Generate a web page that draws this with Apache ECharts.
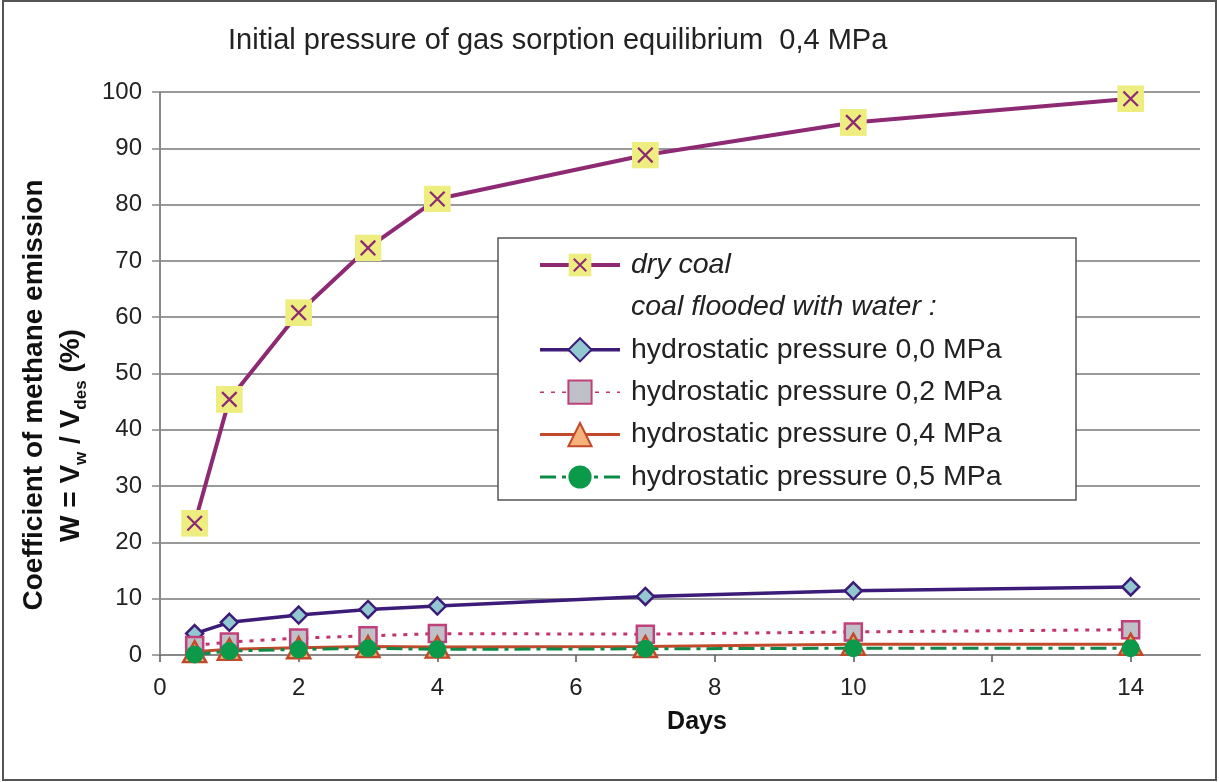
<!DOCTYPE html>
<html>
<head>
<meta charset="utf-8">
<title>Coefficient of methane emission</title>
<script src="https://cdn.jsdelivr.net/npm/echarts@6/dist/echarts.min.js"></script>
<style>
html, body { margin:0; padding:0; background:#fff; }
#e_chart_1 { width:1219px; height:782px; }
</style>
</head>
<body>
<div id="e_chart_1"></div>
<script>
/*****Data start*****/
var days = [0.5, 1, 2, 3, 4, 7, 10, 14];
var dryCoal = [23.4, 45.4, 60.8, 72.3, 81.0, 88.8, 94.6, 98.8];
var hydro00 = [3.8, 5.8, 7.1, 8.1, 8.7, 10.4, 11.4, 12.1];
var hydro02 = [1.7, 2.3, 3.0, 3.4, 3.8, 3.7, 4.1, 4.5];
var hydro04 = [0.6, 1.0, 1.3, 1.5, 1.4, 1.5, 1.9, 1.9];
var hydro05 = [0.1, 0.7, 1.0, 1.2, 1.0, 1.1, 1.2, 1.2];
var xTicks = [0, 2, 4, 6, 8, 10, 12, 14];
var names = ['dry coal', 'coal flooded with water :', 'hydrostatic pressure 0,0 MPa',
	'hydrostatic pressure 0,2 MPa', 'hydrostatic pressure 0,4 MPa', 'hydrostatic pressure 0,5 MPa'];
/*****Data end*****/

function pairs(vals) {
	var out = [];
	for (var i = 0; i < days.length; i++) {
		out.push([days[i], vals[i]]);
	}
	return out;
}

// yellow square with a purple cross, like the excel marker
var crossSvg = "<svg xmlns='http://www.w3.org/2000/svg' width='26' height='26'>" +
	"<rect width='26' height='26' fill='#eeee80'/>" +
	"<path d='M6 6L20 20M20 6L6 20' stroke='#8e2a74' stroke-width='2.2'/></svg>";
var crossSymbol = 'image://data:image/svg+xml;charset=utf-8,' + encodeURIComponent(crossSvg);

var font = "'Liberation Sans', Arial, sans-serif";

window.onload = function() {
	var eChart_1 = echarts.init(document.getElementById('e_chart_1'));
	var option1 = {
		animation: false,
		textStyle: { fontFamily: font },
		title: {
			text: 'Initial pressure of gas sorption equilibrium  0,4 MPa',
			left: 228,
			top: 26,
			padding: 0,
			textStyle: { fontSize: 29, fontWeight: 'normal', color: '#222', fontFamily: font }
		},
		graphic: [{
			type: 'rect',
			shape: { x: 3, y: 1, width: 1213, height: 779 },
			style: { fill: 'none', stroke: '#555', lineWidth: 2 },
			silent: true
		}],
		legend: {
			orient: 'vertical',
			left: 498,
			top: 238,
			padding: [12, 15, 8, 40],
			itemWidth: 80,
			itemHeight: 29,
			itemGap: 12.4,
			backgroundColor: '#fff',
			borderColor: '#555',
			borderWidth: 1.5,
			selectedMode: false,
			lineStyle: { width: 'inherit' },
			textStyle: { fontSize: 28.5, color: '#222', lineHeight: 30, padding: [0, 0, 0, 6], width: 430, fontFamily: font },
			data: [
				{ name: names[0], textStyle: { fontStyle: 'italic' } },
				{ name: names[1], icon: 'none', textStyle: { fontStyle: 'italic' } },
				names[2],
				{ name: names[3], lineStyle: { width: 1.5 } },
				names[4], names[5]
			]
		},
		grid: {
			left: 160,
			right: 19,
			top: 92,
			bottom: 127
		},
		xAxis: {
			type: 'value',
			min: 0,
			max: 15,
			interval: 2,
			name: 'Days',
			nameLocation: 'middle',
			nameGap: 55,
			nameTextStyle: { fontSize: 25, fontWeight: 'bold', color: '#111', padding: [0, 0, 0, 34] },
			axisLine: { show: true, lineStyle: { color: '#888', width: 2 } },
			axisTick: { show: true, length: 7, customValues: xTicks, lineStyle: { color: '#555', width: 1.5 } },
			axisLabel: { customValues: xTicks, fontSize: 24, color: '#222', margin: 21 },
			splitLine: { show: false }
		},
		yAxis: {
			type: 'value',
			min: 0,
			max: 100,
			interval: 10,
			name: '{a|Coefficient of methane emission}\n{b|W = V}{s|w}{b| / V}{s|des}{c| (%)}',
			nameLocation: 'middle',
			nameRotate: 90,
			nameGap: 70,
			nameTextStyle: {
				color: '#111',
				rich: {
					a: { fontSize: 28, fontWeight: 'bold', lineHeight: 37, color: '#111', padding: [0, 43, 0, 0] },
					b: { fontSize: 28, fontWeight: 'bold', lineHeight: 37, color: '#111' },
					c: { fontSize: 28, fontWeight: 'bold', lineHeight: 37, color: '#111', padding: [0, 124, 0, 0] },
					s: { fontSize: 17, fontWeight: 'bold', lineHeight: 22, verticalAlign: 'bottom', color: '#111' }
				}
			},
			axisLine: { show: true, lineStyle: { color: '#888', width: 2 } },
			axisTick: { show: true, length: 8, lineStyle: { color: '#888', width: 1.5 } },
			axisLabel: { fontSize: 24, color: '#222', margin: 18 },
			splitLine: { show: true, lineStyle: { color: '#999', width: 2 } }
		},
		series: [{
			name: names[0],
			type: 'line',
			data: pairs(dryCoal),
			symbol: crossSymbol,
			symbolSize: 27,
			lineStyle: { color: '#8e2a74', width: 4 },
			itemStyle: { color: '#8e2a74' }
		}, {
			name: names[1],
			type: 'line',
			data: [],
			symbol: 'none',
			lineStyle: { color: 'rgba(0,0,0,0)', width: 0 },
			itemStyle: { color: 'rgba(0,0,0,0)' }
		}, {
			name: names[2],
			type: 'line',
			data: pairs(hydro00),
			symbol: 'diamond',
			symbolSize: 17,
			lineStyle: { color: '#3c1c78', width: 3.5 },
			itemStyle: { color: '#92c9d0', borderColor: '#3c1c78', borderWidth: 2.5 }
		}, {
			name: names[3],
			type: 'line',
			data: pairs(hydro02),
			symbol: 'rect',
			symbolSize: 17,
			lineStyle: { color: '#c3336e', width: 3, type: [4, 7] },
			itemStyle: { color: '#c0c0c8', borderColor: '#c0407a', borderWidth: 2.5 }
		}, {
			name: names[4],
			type: 'line',
			data: pairs(hydro04),
			symbol: 'triangle',
			symbolSize: [23, 21],
			lineStyle: { color: '#c24a2b', width: 3 },
			itemStyle: { color: '#f5b27a', borderColor: '#c24a2b', borderWidth: 2.5 }
		}, {
			name: names[5],
			type: 'line',
			data: pairs(hydro05),
			symbol: 'circle',
			symbolSize: 18,
			lineStyle: { color: '#0f8a46', width: 3, type: [16, 6, 4, 6] },
			itemStyle: { color: '#0a9a4a', borderWidth: 0 }
		}]
	};
	eChart_1.setOption(option1);
};
</script>
</body>
</html>
